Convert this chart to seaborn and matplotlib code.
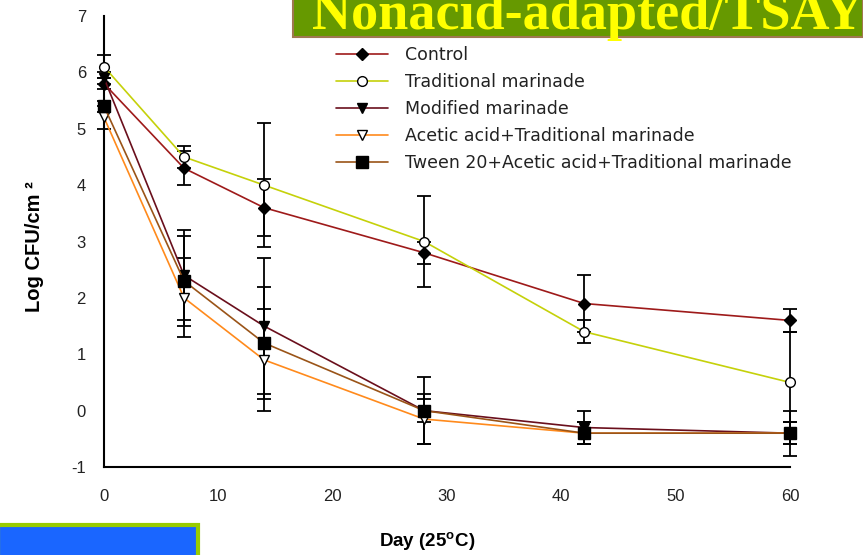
import matplotlib
matplotlib.use("Agg")
import matplotlib.pyplot as plt
import seaborn as sns
import pandas as pd
from matplotlib.patches import Rectangle

# ---- data ----
days = [0, 7, 14, 28, 42, 60]
series_names = ["Control", "Traditional marinade", "Modified marinade",
                "Acetic acid+Traditional marinade",
                "Tween 20+Acetic acid+Traditional marinade"]
control = [5.8, 4.3, 3.6, 2.8, 1.9, 1.6]
control_err = [0.1, 0.3, 0.5, 0.2, 0.5, 0.2]
traditional = [6.1, 4.5, 4.0, 3.0, 1.4, 0.5]
traditional_err = [0.2, 0.2, 1.1, 0.8, 0.2, 0.9]
modified = [5.9, 2.4, 1.5, 0.0, -0.3, -0.4]
modified_err = [0.1, 0.8, 1.2, 0.6, 0.3, 0.2]
acetic = [5.2, 2.0, 0.9, -0.15, -0.4, -0.4]
acetic_err = [0.2, 0.7, 0.9, 0.45, 0.2, 0.2]
tween = [5.4, 2.3, 1.2, 0.0, -0.4, -0.4]
tween_err = [0.1, 0.8, 1.0, 0.2, 0.2, 0.4]
x_ticks = [0, 10, 20, 30, 40, 50, 60]
y_ticks = [-1, 0, 1, 2, 3, 4, 5, 6, 7]

values = [control, traditional, modified, acetic, tween]
errors = [control_err, traditional_err, modified_err, acetic_err, tween_err]
line_colors = ["#9E1A1A", "#C5D10A", "#6A0F1C", "#FF8A1C", "#9A5418"]
markers = ["D", "o", "v", "v", "s"]
marker_faces = ["black", "white", "black", "white", "black"]
marker_sizes = [6.5, 7, 7.5, 7.5, 8.5]

sns.set_theme(style="white")
plt.rcParams["font.family"] = ["Liberation Sans", "DejaVu Sans"]
plt.rcParams["axes.unicode_minus"] = False
plt.rcParams["mathtext.fontset"] = "custom"
plt.rcParams["mathtext.rm"] = "Liberation Sans:bold"
plt.rcParams["mathtext.bf"] = "Liberation Sans:bold"

W, H = 863, 555
fig = plt.figure(figsize=(W / 100, H / 100), dpi=100)
ax = fig.add_axes([104 / W, (H - 467) / H, (790 - 104) / W, (467 - 16) / H])

for name, vals, errs, col, mk, fc, ms in zip(series_names, values, errors,
                                             line_colors, markers, marker_faces, marker_sizes):
    eb = ax.errorbar(days, vals, yerr=errs, fmt="none", ecolor="black",
                     elinewidth=1.3, capsize=5, capthick=1.3, zorder=2)
    for art in list(eb.lines[1]) + list(eb.lines[2]):
        art.set_clip_on(False)
    df = pd.DataFrame({"Day": days, "Log": vals})
    sns.lineplot(data=df, x="Day", y="Log", ax=ax, color=col, linewidth=1.2,
                 marker=mk, markersize=ms, markerfacecolor=fc,
                 markeredgecolor="black", markeredgewidth=1.0,
                 label=name, zorder=3, clip_on=False)

for ln in ax.get_lines():
    ln.set_clip_on(False)

ax.set_xlim(0, 60)
ax.set_ylim(-1, 7)
ax.set_xticks(x_ticks)
ax.set_yticks(y_ticks)
ax.set_xlabel("")
ax.set_ylabel("")
for s in ["top", "right"]:
    ax.spines[s].set_visible(False)
for s in ["left", "bottom"]:
    ax.spines[s].set_color("black")
    ax.spines[s].set_linewidth(1.5)
ax.tick_params(axis="both", direction="out", length=6, width=1.3, colors="black",
               labelsize=12)
ax.tick_params(axis="y", pad=7)
ax.tick_params(axis="x", pad=10)
for lbl in ax.get_yticklabels() + ax.get_xticklabels():
    lbl.set_color("#222222")

handles, labels = ax.get_legend_handles_labels()
leg = ax.legend(handles, labels, loc="upper left",
                bbox_to_anchor=(336 / W, (H - 46) / H), bbox_transform=fig.transFigure,
                frameon=False, borderpad=0, borderaxespad=0,
                handlelength=3.0, handletextpad=1.0, labelspacing=0.52,
                prop={"family": "DejaVu Sans", "size": 12.5})
for t in leg.get_texts():
    t.set_color("#222222")

fig.text(35 / W, (H - 247) / H, "Log CFU/cm ²", rotation=90, ha="center", va="center",
         fontsize=14.5, fontweight="bold", color="black")
fig.text(427 / W, (H - 542) / H, "Day (25$^{\\mathrm{o}}$C)", ha="center", va="center",
         fontsize=13.5, fontweight="bold", color="black")

# title banner (top right, partly cut off)
fig.patches.append(Rectangle((293 / W, (H - 37) / H), (W - 293) / W, 40 / H,
                             transform=fig.transFigure, facecolor="#669900",
                             edgecolor="#A07850", linewidth=1.5, zorder=0))
fig.text(312 / W, (H - 29) / H, "Nonacid-adapted/TSAY", ha="left", va="baseline",
         fontsize=39, fontweight="bold", color="#FFFF00",
         family="Liberation Serif")

# bottom-left banner (mostly cut off)
fig.patches.append(Rectangle((-2 / W, -5 / H), 200 / W, 35 / H,
                             transform=fig.transFigure, facecolor="#1A66FF",
                             edgecolor="#99CC00", linewidth=3, zorder=0))
fig.text(8 / W, (H - 553.5) / H, "DPAM", ha="left", va="top",
         fontsize=30, fontweight="bold", color="#FFFF00")

fig.savefig("out.png", dpi=100)
